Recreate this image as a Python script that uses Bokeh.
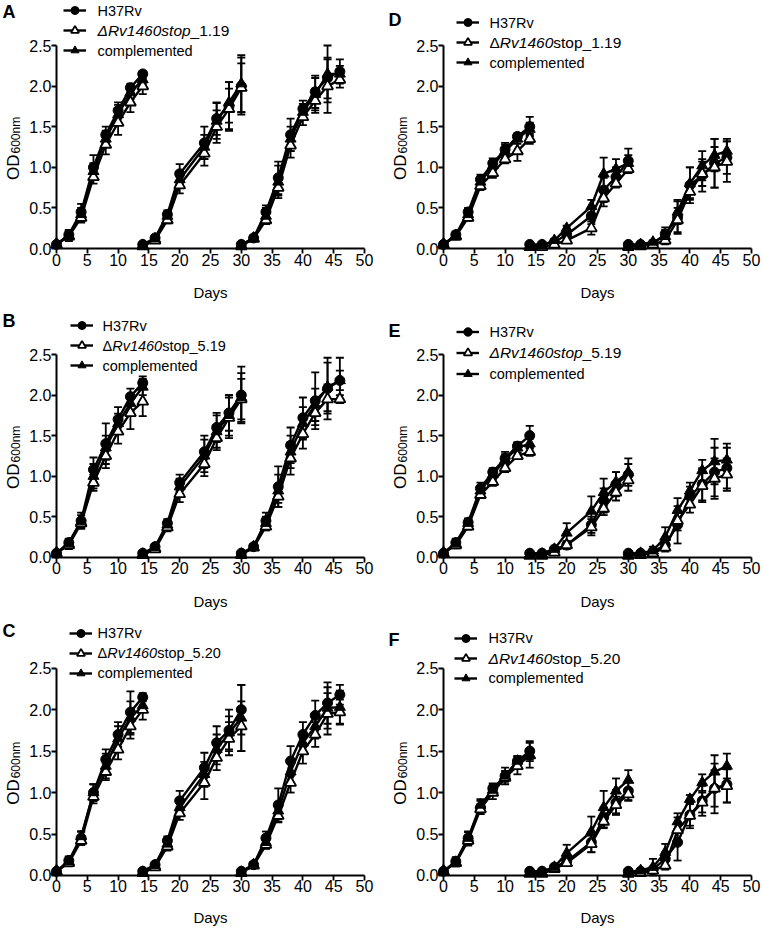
import math
from bokeh.plotting import figure
from bokeh.models import (Range1d, FixedTicker, NumeralTickFormatter, ColumnDataSource,
                          Whisker, TeeHead, Label, Legend, LegendItem)
from bokeh.layouts import column, row
from bokeh.embed import file_html
from bokeh.resources import INLINE

FONT = "Liberation Sans"

# ---------------- data ----------------
DAYS_1 = [0, 2, 4, 6, 8, 10, 12, 14]
DAYS_2 = [14, 16, 18, 20, 24, 26, 28, 30]
DAYS_3 = [30, 32, 34, 36, 38, 40, 42, 44, 46]
X_TICKS = [0, 5, 10, 15, 20, 25, 30, 35, 40, 45, 50]
Y_TICKS = [0.0, 0.5, 1.0, 1.5, 2.0, 2.5]

A_WT = [0.05,0.17,0.45,1.00,1.40,1.70,1.98,2.15, 0.05,0.13,0.42,0.92,1.30,1.60,1.75,2.00, 0.05,0.13,0.45,0.87,1.40,1.72,1.93,2.10,2.18]
A_WT_SD = [0.02,0.06,0.10,0.15,0.10,0.10,0.05,0.03, 0.02,0.03,0.05,0.12,0.20,0.20,0.30,0.35, 0.02,0.03,0.08,0.20,0.20,0.10,0.20,0.25,0.15]
A_MUT = [0.05,0.15,0.38,0.88,1.28,1.55,1.80,2.00, 0.03,0.10,0.35,0.78,1.17,1.50,1.72,1.98, 0.03,0.12,0.35,0.75,1.27,1.62,1.82,2.00,2.08]
A_MUT_SD = [0.02,0.06,0.06,0.08,0.12,0.15,0.12,0.10, 0.02,0.03,0.04,0.10,0.15,0.20,0.25,0.30, 0.02,0.03,0.05,0.10,0.15,0.10,0.15,0.33,0.10]
A_COMP = [0.05,0.16,0.42,0.95,1.35,1.65,1.92,2.08, 0.04,0.12,0.40,0.85,1.25,1.57,1.80,2.03, 0.04,0.13,0.40,0.82,1.35,1.68,1.90,2.15,2.15]
A_COMP_SD = [0.02,0.05,0.08,0.10,0.10,0.12,0.08,0.05, 0.02,0.03,0.05,0.10,0.15,0.22,0.25,0.35, 0.02,0.03,0.10,0.20,0.15,0.10,0.20,0.35,0.10]

B_WT = [0.05,0.18,0.45,1.08,1.40,1.70,1.98,2.15, 0.05,0.13,0.42,0.92,1.30,1.60,1.78,2.00, 0.05,0.13,0.45,0.87,1.38,1.72,1.93,2.08,2.18]
B_WT_SD = [0.02,0.05,0.10,0.15,0.25,0.15,0.10,0.08, 0.02,0.03,0.05,0.10,0.20,0.18,0.22,0.35, 0.02,0.03,0.10,0.25,0.22,0.25,0.35,0.38,0.28]
B_MUT = [0.05,0.15,0.42,0.92,1.25,1.55,1.78,1.92, 0.03,0.10,0.37,0.78,1.15,1.47,1.72,1.95, 0.03,0.12,0.38,0.75,1.22,1.52,1.78,1.95,1.95]
B_MUT_SD = [0.02,0.05,0.05,0.10,0.15,0.15,0.20,0.18, 0.02,0.03,0.05,0.10,0.15,0.15,0.25,0.25, 0.02,0.03,0.05,0.08,0.20,0.18,0.15,0.18,0.05]
B_COMP = [0.05,0.17,0.44,1.00,1.35,1.65,1.90,2.10, 0.04,0.12,0.40,0.87,1.25,1.55,1.75,1.97, 0.04,0.13,0.42,0.82,1.30,1.65,1.88,2.10,2.18]
B_COMP_SD = [0.02,0.05,0.08,0.15,0.15,0.12,0.10,0.10, 0.02,0.03,0.05,0.10,0.20,0.20,0.25,0.30, 0.02,0.03,0.08,0.20,0.20,0.20,0.20,0.30,0.12]

C_WT = [0.05,0.18,0.45,1.00,1.40,1.70,1.97,2.15, 0.05,0.13,0.42,0.90,1.30,1.60,1.75,2.00, 0.05,0.13,0.45,0.85,1.38,1.70,1.93,2.08,2.18]
C_WT_SD = [0.02,0.05,0.08,0.10,0.12,0.15,0.25,0.05, 0.02,0.03,0.05,0.12,0.18,0.20,0.25,0.30, 0.02,0.03,0.08,0.20,0.18,0.15,0.18,0.25,0.12]
C_MUT = [0.05,0.15,0.42,0.95,1.25,1.52,1.80,2.00, 0.03,0.10,0.35,0.75,1.12,1.42,1.65,1.80, 0.03,0.12,0.37,0.72,1.12,1.50,1.70,1.95,1.97]
C_MUT_SD = [0.02,0.04,0.05,0.08,0.10,0.12,0.15,0.12, 0.02,0.03,0.05,0.08,0.20,0.15,0.20,0.30, 0.02,0.03,0.05,0.08,0.12,0.15,0.15,0.25,0.15]
C_COMP = [0.05,0.17,0.47,1.00,1.32,1.65,1.90,2.05, 0.04,0.12,0.38,0.82,1.22,1.52,1.72,1.90, 0.04,0.13,0.40,0.78,1.25,1.60,1.80,2.02,2.03]
C_COMP_SD = [0.02,0.05,0.06,0.10,0.15,0.15,0.20,0.08, 0.02,0.03,0.05,0.10,0.15,0.18,0.20,0.40, 0.02,0.03,0.05,0.10,0.15,0.10,0.15,0.25,0.20]

D_WT = [0.05,0.17,0.45,0.85,1.05,1.22,1.38,1.50, 0.05,0.05,0.08,0.17,0.40,0.72,0.88,1.08, 0.05,0.05,0.06,0.18,0.38,0.78,0.90,1.05,1.12]
D_WT_SD = [0.02,0.04,0.05,0.06,0.06,0.08,0.04,0.12, 0.01,0.01,0.02,0.05,0.10,0.15,0.12,0.15, 0.01,0.01,0.02,0.08,0.20,0.22,0.20,0.30,0.20]
D_MUT = [0.05,0.15,0.38,0.77,0.93,1.10,1.20,1.35, 0.02,0.02,0.05,0.10,0.25,0.62,0.80,0.98, 0.02,0.03,0.05,0.10,0.35,0.70,0.92,1.00,1.07]
D_MUT_SD = [0.02,0.04,0.04,0.05,0.06,0.05,0.12,0.06, 0.01,0.01,0.02,0.03,0.08,0.10,0.05,0.05, 0.01,0.01,0.02,0.05,0.15,0.08,0.15,0.25,0.25]
D_COMP = [0.05,0.16,0.42,0.82,1.02,1.20,1.35,1.47, 0.03,0.04,0.10,0.25,0.52,0.92,0.98,1.05, 0.03,0.05,0.08,0.15,0.45,0.80,1.02,1.15,1.20]
D_COMP_SD = [0.02,0.04,0.06,0.05,0.06,0.08,0.06,0.08, 0.01,0.01,0.02,0.03,0.08,0.20,0.12,0.10, 0.01,0.01,0.02,0.08,0.15,0.20,0.18,0.20,0.15]

E_WT = [0.05,0.18,0.43,0.85,1.05,1.22,1.37,1.50, 0.05,0.05,0.10,0.15,0.40,0.70,0.90,1.02, 0.05,0.05,0.07,0.15,0.40,0.75,0.90,1.05,1.10]
E_WT_SD = [0.02,0.05,0.05,0.07,0.05,0.08,0.05,0.12, 0.01,0.01,0.02,0.05,0.10,0.15,0.15,0.20, 0.01,0.01,0.02,0.06,0.23,0.12,0.20,0.30,0.25]
E_MUT = [0.05,0.15,0.38,0.77,0.93,1.10,1.25,1.30, 0.02,0.02,0.06,0.15,0.37,0.60,0.80,0.95, 0.02,0.03,0.05,0.12,0.45,0.65,0.88,0.97,1.02]
E_MUT_SD = [0.02,0.04,0.04,0.04,0.05,0.05,0.04,0.05, 0.01,0.01,0.02,0.03,0.10,0.08,0.10,0.07, 0.01,0.01,0.03,0.05,0.12,0.10,0.20,0.25,0.20]
E_COMP = [0.05,0.17,0.42,0.82,1.02,1.20,1.35,1.40, 0.03,0.04,0.10,0.30,0.57,0.80,0.93,1.05, 0.03,0.05,0.08,0.25,0.58,0.82,1.07,1.18,1.20]
E_COMP_SD = [0.02,0.04,0.05,0.05,0.06,0.07,0.06,0.06, 0.01,0.01,0.02,0.12,0.18,0.17,0.12,0.10, 0.01,0.01,0.05,0.12,0.15,0.10,0.13,0.28,0.20]

F_WT = [0.05,0.17,0.45,0.82,1.05,1.20,1.38,1.50, 0.05,0.05,0.10,0.17,0.40,0.70,0.88,1.02, 0.05,0.05,0.07,0.20,0.40,0.73,0.90,1.05,1.10]
F_WT_SD = [0.02,0.05,0.08,0.08,0.06,0.10,0.06,0.12, 0.01,0.01,0.02,0.05,0.12,0.12,0.15,0.12, 0.01,0.01,0.02,0.08,0.22,0.13,0.18,0.30,0.22]
F_MUT = [0.05,0.15,0.42,0.80,1.00,1.18,1.32,1.45, 0.02,0.02,0.08,0.15,0.38,0.65,0.85,0.98, 0.02,0.03,0.06,0.12,0.55,0.72,0.88,1.05,1.08]
F_MUT_SD = [0.02,0.04,0.06,0.06,0.08,0.05,0.10,0.05, 0.01,0.01,0.02,0.03,0.10,0.08,0.10,0.07, 0.01,0.01,0.03,0.05,0.15,0.15,0.12,0.22,0.20]
F_COMP = [0.05,0.16,0.45,0.85,1.03,1.20,1.38,1.45, 0.03,0.04,0.10,0.27,0.53,0.82,1.02,1.15, 0.03,0.06,0.10,0.28,0.65,0.92,1.12,1.25,1.32]
F_COMP_SD = [0.02,0.05,0.07,0.07,0.06,0.06,0.06,0.15, 0.01,0.01,0.02,0.10,0.18,0.20,0.15,0.12, 0.01,0.02,0.10,0.10,0.10,0.05,0.10,0.20,0.15]

LABEL_WT = "H37Rv"
LABEL_COMP = "complemented"
MUT_A = [("ΔRv1460stop", "italic"), ("_1.19", "normal")]
MUT_B = [("Δ", "normal"), ("Rv1460", "italic"), ("stop_5.19", "normal")]
MUT_C = [("Δ", "normal"), ("Rv1460", "italic"), ("stop_5.20", "normal")]
MUT_D = [("Δ", "normal"), ("Rv1460", "italic"), ("stop_1.19", "normal")]
MUT_E = [("ΔRv1460stop", "italic"), ("_5.19", "normal")]
MUT_F = [("ΔRv1460", "italic"), ("stop_5.20", "normal")]

# ---------------- layout constants (pixels) ----------------
FIG_W = 381
ROW_H = [310, 310, 308]
COLS = [dict(x0px=56, ppd=6.16), dict(x0px=62, ppd=6.16)]
ROWS = [dict(y25px=45, ppu=81.2), dict(y25px=44, ppu=81.1), dict(y25px=47.7, ppu=82.9)]
# glyph offset from x=0, text offset from x=0, first legend row offset from y=2.5,
# letter top above y=2.5, row pitch, mutant label font size
LEG = {"A": (7, 41, -35, 41, 20, 15.5), "B": (14, 46, -29, 43, 20, 14.5),
       "C": (13, 41, -35, 45, 20, 14.5), "D": (13, 46, -23, 33, 20, 15.5),
       "E": (13, 46, -23, 31, 21, 15.5), "F": (11, 45, -30, 35, 20, 15.5)}
LEG_FS = 14.5

CW = {'Δ': 0.668, 'R': 0.722, 'v': 0.5, '1': 0.556, '4': 0.556, '6': 0.556, '0': 0.556,
      's': 0.5, 't': 0.278, 'o': 0.556, 'p': 0.556, '_': 0.556, '.': 0.278, '5': 0.556,
      '9': 0.556, '2': 0.556, 'O': 0.778, 'D': 0.722}


def text_w(s, fs):
    return sum(CW.get(c, 0.556) for c in s) * fs


def make_panel(letter, wt, wt_sd, mut, mut_sd, comp, comp_sd, mut_parts, ci, ri):
    cg, rg = COLS[ci], ROWS[ri]
    W, H = FIG_W, ROW_H[ri]
    x_range = Range1d(-cg["x0px"] / cg["ppd"], (W - cg["x0px"]) / cg["ppd"])
    y_range = Range1d(2.5 - (H - rg["y25px"]) / rg["ppu"], 2.5 + rg["y25px"] / rg["ppu"])
    p = figure(width=W, height=H, output_backend="svg", toolbar_location=None,
               x_range=x_range, y_range=y_range,
               min_border_left=0, min_border_right=0, min_border_top=0, min_border_bottom=0)
    p.outline_line_color = None
    p.xgrid.visible = False
    p.ygrid.visible = False
    p.background_fill_color = "white"
    p.border_fill_color = "white"

    for ax in (p.xaxis[0], p.yaxis[0]):
        ax.fixed_location = 0
        ax.axis_line_width = 2
        ax.axis_line_color = "black"
        ax.major_tick_line_width = 1.8
        ax.major_tick_line_color = "black"
        ax.major_tick_out = 5
        ax.major_tick_in = 0
        ax.minor_tick_line_color = None
        ax.major_label_text_font = FONT
        ax.major_label_text_font_size = "16px"
        ax.major_label_text_color = "black"
    p.xaxis.ticker = FixedTicker(ticks=X_TICKS)
    p.yaxis.ticker = FixedTicker(ticks=Y_TICKS)
    p.xaxis.bounds = (0, 50)
    p.yaxis.bounds = (0, 2.5)
    p.xaxis.formatter = NumeralTickFormatter(format="0")
    p.yaxis.formatter = NumeralTickFormatter(format="0.0")
    p.xaxis.major_label_standoff = 0
    p.yaxis.major_label_standoff = 0
    p.xaxis.axis_label = "Days"
    p.xaxis.axis_label_text_font = FONT
    p.xaxis.axis_label_text_font_size = "15px"
    p.xaxis.axis_label_text_font_style = "normal"
    p.xaxis.axis_label_text_color = "black"
    p.xaxis.axis_label_standoff = 15 if ri < 2 else 13

    days = DAYS_1 + DAYS_2 + DAYS_3
    n1, n2 = len(DAYS_1), len(DAYS_2)
    nan = float("nan")

    def broken(v):
        return v[:n1] + [nan] + v[n1:n1 + n2] + [nan] + v[n1 + n2:]

    styles = [
        (wt, wt_sd, dict(marker="circle", size=10, fill_color="black", line_color="black")),
        (mut, mut_sd, dict(marker="triangle", size=11, fill_color="white", line_color="black", line_width=1.8)),
        (comp, comp_sd, dict(marker="triangle", size=11, fill_color="black", line_color="black")),
    ]
    renders = []
    for vals, sd, mk in styles:
        src = ColumnDataSource(dict(x=days, y=vals,
                                    upper=[v + s for v, s in zip(vals, sd)],
                                    lower=[v - s for v, s in zip(vals, sd)]))
        wh = Whisker(source=src, base="x", upper="upper", lower="lower", dimension="height",
                     line_color="black", line_width=1.8,
                     upper_head=TeeHead(size=8, line_width=1.8, line_color="black"),
                     lower_head=TeeHead(size=8, line_width=1.8, line_color="black"))
        p.add_layout(wh)
        lsrc = ColumnDataSource(dict(x=broken(days), y=broken(vals)))
        lr = p.line("x", "y", source=lsrc, line_color="black", line_width=2.4)
        renders.append((lr, src, mk))
    items = []
    for lr, src, mk in renders:
        sr = p.scatter("x", "y", source=src, **mk)
        items.append(LegendItem(label=" ", renderers=[lr, sr]))

    g_off, t_off, r1, let_top, pitch, mut_fs = LEG[letter]
    x0px, y25px = cg["x0px"], rg["y25px"]

    leg_top = y25px + r1 - pitch / 2
    vy = H - leg_top - 3 * pitch
    legend = Legend(items=items, location=(x0px + g_off, vy), orientation="vertical",
                    padding=0, spacing=0, margin=0, glyph_width=23, glyph_height=pitch,
                    label_height=pitch, label_width=1, label_standoff=0,
                    label_text_font_size="8px", border_line_color=None,
                    background_fill_alpha=0)
    p.add_layout(legend)

    def lab(text, xo, yo, style="normal", fs=LEG_FS):
        p.add_layout(Label(x=0, y=2.5, x_offset=xo, y_offset=yo, text=text,
                           text_font=FONT, text_font_size=f"{fs}px", text_font_style=style,
                           text_color="black", text_baseline="middle", text_align="left"))
    lab(LABEL_WT, t_off, -r1)
    xo = t_off
    for txt, st in mut_parts:
        lab(txt, xo, -(r1 + pitch), st, mut_fs)
        xo += text_w(txt, mut_fs)
    lab(LABEL_COMP, t_off, -(r1 + 2 * pitch))

    # panel letter
    lx = -x0px + (2 if ci == 0 else 7)
    ly = min(let_top + 3, y25px)
    p.add_layout(Label(x=0, y=2.5, x_offset=lx, y_offset=ly, text=letter,
                       text_font=FONT, text_font_size="18px", text_font_style="bold",
                       text_color="black", text_baseline="top", text_align="left"))

    # y axis label OD600nm
    od_fs, sub_fs = 17, 12
    start = -33
    p.add_layout(Label(x=0, y=1.25, x_offset=-43, y_offset=start, text="OD", angle=math.pi / 2,
                       text_font=FONT, text_font_size=f"{od_fs}px", text_color="black",
                       text_baseline="alphabetic", text_align="left"))
    p.add_layout(Label(x=0, y=1.25, x_offset=-41, y_offset=start + text_w("OD", od_fs) + 1,
                       text="600nm", angle=math.pi / 2,
                       text_font=FONT, text_font_size=f"{sub_fs}px", text_color="black",
                       text_baseline="alphabetic", text_align="left"))
    return p


pA = make_panel("A", A_WT, A_WT_SD, A_MUT, A_MUT_SD, A_COMP, A_COMP_SD, MUT_A, 0, 0)
pB = make_panel("B", B_WT, B_WT_SD, B_MUT, B_MUT_SD, B_COMP, B_COMP_SD, MUT_B, 0, 1)
pC = make_panel("C", C_WT, C_WT_SD, C_MUT, C_MUT_SD, C_COMP, C_COMP_SD, MUT_C, 0, 2)
pD = make_panel("D", D_WT, D_WT_SD, D_MUT, D_MUT_SD, D_COMP, D_COMP_SD, MUT_D, 1, 0)
pE = make_panel("E", E_WT, E_WT_SD, E_MUT, E_MUT_SD, E_COMP, E_COMP_SD, MUT_E, 1, 1)
pF = make_panel("F", F_WT, F_WT_SD, F_MUT, F_MUT_SD, F_COMP, F_COMP_SD, MUT_F, 1, 2)

layout = column(row(pA, pD, spacing=0), row(pB, pE, spacing=0), row(pC, pF, spacing=0), spacing=0)

open("out.html", "w").write(file_html(layout, INLINE, title="Growth curves"))
